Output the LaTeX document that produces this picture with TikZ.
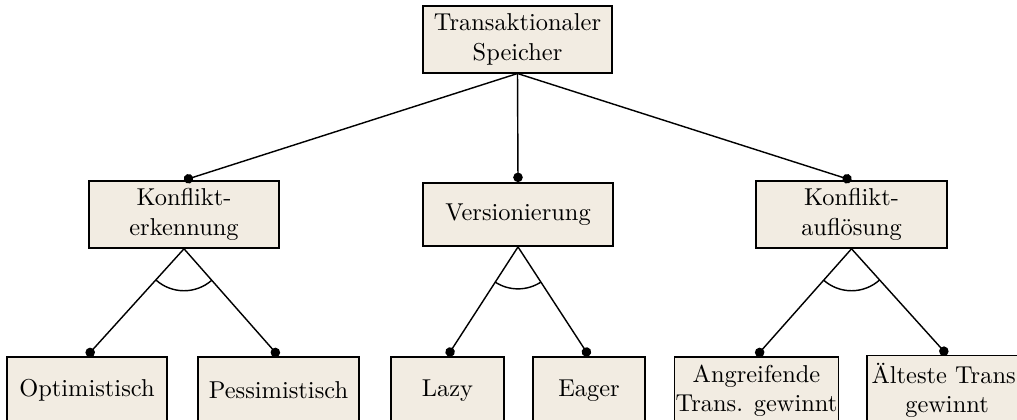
\documentclass[tikz,border=0pt]{standalone}
\usetikzlibrary{arrows.meta,calc}
\definecolor{boxfill}{RGB}{242,236,226}
\tikzset{
  feat/.style={draw, line width=0.75pt, fill=boxfill, align=center,
    font=\fontsize{10.3pt}{12.4pt}\selectfont,
    inner xsep=0.5pt, inner ysep=3.2pt, minimum height=26.6pt},
  midfeat/.style={feat, minimum width=80.3pt},
  leaf/.style={feat, minimum height=28.4pt},
  link/.style={line width=0.6pt, -{Circle[length=4pt]}},
  grouparc/.style={line width=0.6pt},
}
% arc marking an alternative group below a parent feature
\newcommand{\altgroup}[3]{%
  \draw[grouparc] let \p1=($(#2.north)-(#1.south)$),
                      \p2=($(#3.north)-(#1.south)$),
                      \n1={atan2(\y1,\x1)}, \n2={atan2(\y2,\x2)} in
    ($(#1.south)!17.7pt!(#2.north)$) arc[start angle=\n1, end angle=\n2, radius=17.7pt];}
\begin{document}
\begin{tikzpicture}[x=0.4219pt, y=-0.4219pt]
\useasboundingbox (0,0) rectangle (1017,419);

% root
\node[midfeat, minimum width=79.6pt] (tm) at (517.5,39.5) {Transaktionaler\\Speicher};

% second level
\node[midfeat] (ke) at (184,214.5) {Konflikt-\\erkennung};
\node[midfeat] (ver) at (518,214.5) {Versionierung};
\node[midfeat] (ka) at (851.5,214.5) {Konflikt-\\auflösung};

% leaves
\node[leaf, minimum width=67.5pt] (opt) at (87,390.5) {Optimistisch};
\node[leaf, minimum width=67.9pt] (pes) at (278.5,390.5) {Pessimistisch};
\node[leaf, minimum width=47.7pt] (lazy) at (447.5,390.5) {Lazy};
\node[leaf, minimum width=47.3pt] (eager) at (589,390.5) {Eager};
\node[leaf, minimum width=67.1pt] (ang) at (756.5,390.5) {Angreifende\\Trans. gewinnt};
\node[leaf, minimum width=67.5pt] (alt) at (947,390.5) {Älteste Trans.\\gewinnt};

% connectors
\draw[link] (tm.south) -- (ke.north);
\draw[link] (tm.south) -- (ver.north);
\draw[link] (tm.south) -- (ka.north);

\draw[link] (ke.south) -- (opt.north);
\draw[link] (ke.south) -- (pes.north);
\draw[link] (ver.south) -- (lazy.north);
\draw[link] (ver.south) -- (eager.north);
\draw[link] (ka.south) -- (ang.north);
\draw[link] (ka.south) -- (alt.north);

% alternative groups
\altgroup{ke}{opt}{pes}
\altgroup{ver}{lazy}{eager}
\altgroup{ka}{ang}{alt}
\end{tikzpicture}
\end{document}
